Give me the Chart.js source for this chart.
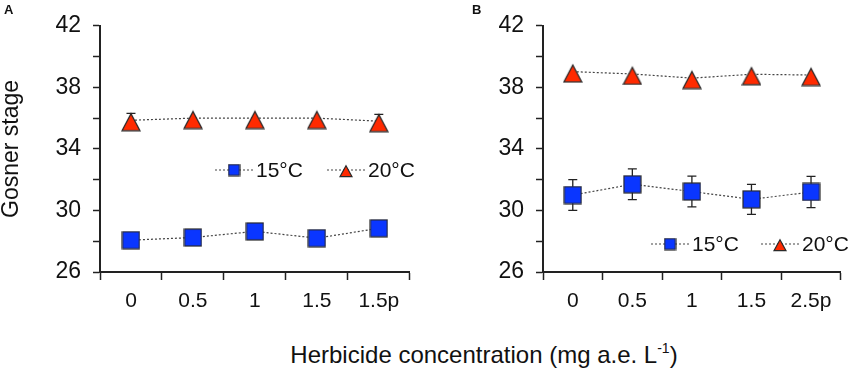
<!DOCTYPE html>
<html>
<head>
<meta charset="utf-8">
<script src="https://cdn.jsdelivr.net/npm/chart.js@4.4.0/dist/chart.umd.min.js"></script>
<style>
  body { margin:0; background:#fff; width:851px; height:371px; position:relative; overflow:hidden;
         font-family:"Liberation Sans", Arial, sans-serif; color:#111; }
  #wrapA { position:absolute; left:0; top:0; width:420px; height:320px; }
  #wrapB { position:absolute; left:420px; top:0; width:431px; height:320px; }
  .tag { position:absolute; top:2px; font-weight:bold; font-size:13px; }
  #xtitle { position:absolute; left:284px; width:400px; top:342px; text-align:center;
            font-size:24px; line-height:26px; white-space:nowrap; }
  #xtitle sup { font-size:14px; vertical-align:10px; line-height:0; }
</style>
</head>
<body>
<div id="wrapA"><canvas id="chartA"></canvas></div>
<div id="wrapB"><canvas id="chartB"></canvas></div>
<div class="tag" style="left:4px">A</div>
<div class="tag" style="left:472px">B</div>
<div id="xtitle">Herbicide concentration (mg a.e. L<sup>-1</sup>)</div>
<script>
// panel A
const labelsA = ['0', '0.5', '1', '1.5', '1.5p'];
const a15 = [28.07, 28.24, 28.64, 28.2, 28.84];
const a15err = [0.3, 0.3, 0.3, 0.3, 0.3];
const a20 = [35.86, 36.0, 36.0, 36.0, 35.8];
const a20err = [0.45, 0, 0, 0, 0.45];

// panel B
const labelsB = ['0', '0.5', '1', '1.5', '2.5p'];
const b15 = [31.0, 31.7, 31.23, 30.72, 31.2];
const b15err = [1.0, 1.0, 1.0, 0.97, 1.02];
const b20 = [39.02, 38.87, 38.6, 38.85, 38.8];
const b20err = [0, 0, 0, 0, 0];

const yMin = 26, yMax = 42, yStep = 2;
const seriesNames = ['15°C', '20°C'];

const BLUE = '#0a36ff', RED = '#ff2a00', EDGE = '#2a2a2a';

Chart.defaults.font.family = '"Liberation Sans", Arial, sans-serif';
Chart.defaults.color = '#111';

// marker pictures, point sits a bit above the middle of the triangle like in excel
function square(side, fill) {
  const c = document.createElement('canvas');
  c.width = c.height = side + 2;
  const g = c.getContext('2d');
  g.fillStyle = fill; g.strokeStyle = EDGE; g.lineWidth = 1.2;
  g.fillRect(1, 1, side, side);
  g.strokeRect(1, 1, side, side);
  return c;
}
function triangle(w, h, fill) {
  const c = document.createElement('canvas');
  c.width = w + 2;
  c.height = Math.ceil(2 * 0.61 * h) + 2;
  const g = c.getContext('2d');
  const cx = c.width / 2, cy = c.height / 2;
  const top = cy - 0.39 * h;
  g.fillStyle = fill; g.strokeStyle = EDGE; g.lineWidth = 1.2;
  g.beginPath();
  g.moveTo(cx, top);
  g.lineTo(cx + w / 2, top + h);
  g.lineTo(cx - w / 2, top + h);
  g.closePath();
  g.fill(); g.stroke();
  return c;
}

const bigSq = square(17, BLUE), bigTri = triangle(18, 17, RED);
const smallSq = square(11, BLUE), smallTri = triangle(12, 11, RED);

const errorBars = {
  id: 'errorBars',
  beforeDatasetsDraw(chart) {
    const ctx = chart.ctx, y = chart.scales.y;
    chart.data.datasets.forEach((ds, i) => {
      const meta = chart.getDatasetMeta(i);
      ctx.save();
      ctx.strokeStyle = '#222';
      ctx.lineWidth = 1.3;
      meta.data.forEach((pt, j) => {
        if (!ds.errors[j]) return;
        const hi = y.getPixelForValue(ds.data[j] + ds.errors[j]);
        const lo = y.getPixelForValue(ds.data[j] - ds.errors[j]);
        ctx.beginPath();
        ctx.moveTo(pt.x, hi); ctx.lineTo(pt.x, lo);
        ctx.moveTo(pt.x - 4.5, hi); ctx.lineTo(pt.x + 4.5, hi);
        ctx.moveTo(pt.x - 4.5, lo); ctx.lineTo(pt.x + 4.5, lo);
        ctx.stroke();
      });
      ctx.restore();
    });
  }
};

// legend drawn inside the plot: dotted line, marker, text
const lineLegend = {
  id: 'lineLegend',
  afterDraw(chart, args, opts) {
    const ctx = chart.ctx;
    const marks = [smallSq, smallTri];
    chart.data.datasets.forEach((ds, i) => {
      const x0 = opts.x[i], y0 = opts.y;
      ctx.save();
      ctx.strokeStyle = '#444';
      ctx.lineWidth = 1.2;
      ctx.setLineDash([2, 2]);
      ctx.beginPath();
      ctx.moveTo(x0, y0); ctx.lineTo(x0 + 38, y0);
      ctx.stroke();
      ctx.setLineDash([]);
      const m = marks[i];
      ctx.drawImage(m, x0 + 19 - m.width / 2, y0 - m.height / 2);
      ctx.fillStyle = '#111';
      ctx.font = '21px "Liberation Sans", Arial, sans-serif';
      ctx.textBaseline = 'middle';
      ctx.fillText(ds.label, x0 + 41, y0 + 1);
      ctx.restore();
    });
  }
};

function makeChart(id, labels, s15, e15, s20, e20, opt) {
  new Chart(document.getElementById(id), {
    type: 'line',
    data: {
      labels: labels,
      datasets: [
        { label: seriesNames[0], data: s15, errors: e15, pointStyle: bigSq, pointRadius: 9,
          borderColor: '#444', borderWidth: 1.2, borderDash: [2, 2], tension: 0 },
        { label: seriesNames[1], data: s20, errors: e20, pointStyle: bigTri, pointRadius: 9,
          borderColor: '#444', borderWidth: 1.2, borderDash: [2, 2], tension: 0 }
      ]
    },
    options: {
      responsive: true,
      maintainAspectRatio: false,
      animation: false,
      events: [],
      layout: { padding: { left: 0, right: opt.right, top: opt.top, bottom: 0 } },
      plugins: {
        legend: { display: false },
        tooltip: { enabled: false },
        lineLegend: { x: opt.legX, y: opt.legY }
      },
      scales: {
        x: {
          offset: true,
          grid: { offset: true, drawOnChartArea: false, tickLength: 8, tickColor: '#222', tickWidth: 1.5 },
          border: { color: '#222', width: 2 },
          ticks: { font: { size: 21 }, padding: 9, color: '#111', maxRotation: 0 },
          afterFit(s) { s.height = 48; }
        },
        y: {
          min: yMin, max: yMax,
          grid: { drawOnChartArea: false, tickLength: 7, tickColor: '#222', tickWidth: 1.5 },
          border: { color: '#222', width: 2 },
          ticks: {
            stepSize: yStep, font: { size: 23 }, padding: 12, color: '#111',
            callback: v => ((v - yMin) % 4 === 0 ? v : '')
          },
          title: {
            display: opt.title, text: 'Gosner stage', font: { size: 23, lineHeight: 1.05 },
            padding: { top: 0, bottom: 0 }, color: '#111'
          },
          afterFit(s) { s.width = opt.yw; }
        }
      }
    },
    plugins: [errorBars, lineLegend]
  });
}

makeChart('chartA', labelsA, a15, a15err, a20, a20err,
  { right: 8, top: 20, yw: 100, title: true, legX: [215, 327], legY: 170 });
makeChart('chartB', labelsB, b15, b15err, b20, b20err,
  { right: 3, top: 19, yw: 123, title: false, legX: [231, 341], legY: 244 });
</script>
</body>
</html>
